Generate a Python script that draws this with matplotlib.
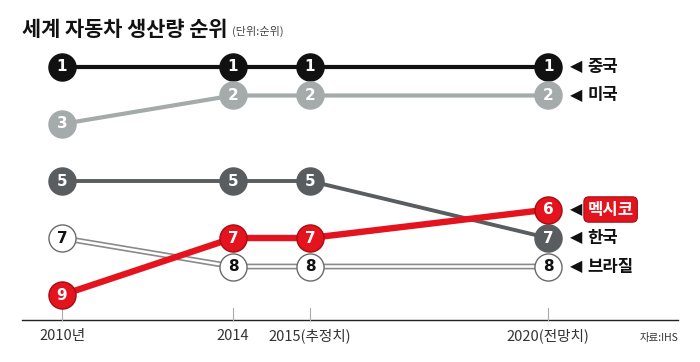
import matplotlib
matplotlib.use("Agg")
import matplotlib.pyplot as plt

plt.rcParams['font.family'] = ['Noto Sans CJK KR', 'DejaVu Sans']

# data
years = ['2010년', '2014', '2015(추정치)', '2020(전망치)']
countries = ['중국', '미국', '한국', '멕시코', '브라질']
china = [1, 1, 1, 1]
usa = [3, 2, 2, 2]
korea = [5, 5, 5, 7]
mexico = [9, 7, 7, 6]
brazil = [7, 8, 8, 8]

# horizontal spacing of the columns as drawn (not strictly linear)
x_pos = [0, 4, 5.8, 11.37]

fig = plt.figure(figsize=(7, 3.62), dpi=100)
ax = fig.add_axes([0, 0, 1, 1])
ax.set_xlim(-1.45, 14.92)
ax.set_ylim(11.35, -1.35)
ax.axis('off')

ms = 19.5
num_font = dict(ha='center', va='center', fontsize=11, fontweight='bold',
                family=['DejaVu Sans'])

# brazil: hollow double line
ax.plot(x_pos, brazil, color='#8a8a8a', lw=4.2, zorder=2, solid_capstyle='butt')
ax.plot(x_pos, brazil, color='white', lw=1.8, zorder=2.1, solid_capstyle='butt')
ax.plot(x_pos, brazil, 'o', ms=ms, mfc='white', mec='#6a6a6a', mew=1.0, zorder=2.2)
for x, r in zip(x_pos, brazil):
    ax.text(x, r, str(r), color='#111111', zorder=2.3, **num_font)

series = [
    (china, '#111111', '#111111', 3.0, 3),
    (usa, '#a4abaa', '#a4abaa', 3.0, 3),
    (korea, '#5a5d60', '#5a5d60', 2.8, 4),
    (mexico, '#e3141d', '#a50d12', 4.6, 5),
]
for vals, col, edge, lw, z in series:
    ax.plot(x_pos, vals, color=col, lw=lw, zorder=z)
    ax.plot(x_pos, vals, 'o', ms=ms, mfc=col, mec=edge, mew=1.0, zorder=z + 0.1)
    for x, r in zip(x_pos, vals):
        ax.text(x, r, str(r), color='white', zorder=z + 0.2, **num_font)

# end labels
last = [china[-1], usa[-1], korea[-1], mexico[-1], brazil[-1]]
lx = x_pos[-1] + 0.5
for name, r in zip(countries, last):
    ax.text(lx, r, '◀', ha='left', va='center', fontsize=11.5, color='#111111',
            family=['DejaVu Sans'])
    if name == '멕시코':
        ax.text(lx + 0.42, r, name, ha='left', va='center', fontsize=12,
                fontweight='bold', color='white',
                bbox=dict(boxstyle='round,pad=0.22,rounding_size=0.3',
                          fc='#e3141d', ec='#a50d12', lw=0.8))
    else:
        ax.text(lx + 0.42, r, name, ha='left', va='center', fontsize=12,
                fontweight='bold', color='#111111')

# base axis line, ticks and labels
y_axis = 9.88
ax.plot([-0.93, 14.41], [y_axis, y_axis], color='#222222', lw=1.0, zorder=1)
for x, lab in zip(x_pos, years):
    ax.plot([x, x], [y_axis - 0.42, y_axis], color='#aaaaaa', lw=0.8, zorder=1)
    ax.text(x, y_axis + 0.3, lab, ha='center', va='top', fontsize=10.5,
            color='#333333')
ax.text(14.41, y_axis + 0.45, '자료:IHS', ha='right', va='top', fontsize=7.5,
        color='#333333')

# title
fig.text(22 / 700, 1 - 36 / 362, '세계 자동차 생산량 순위', ha='left',
         va='baseline', fontsize=15, fontweight='bold', color='#111111')
fig.text(232 / 700, 1 - 35 / 362, '(단위:순위)', ha='left', va='baseline',
         fontsize=8, color='#444444')

fig.savefig('out.png', dpi=100)
